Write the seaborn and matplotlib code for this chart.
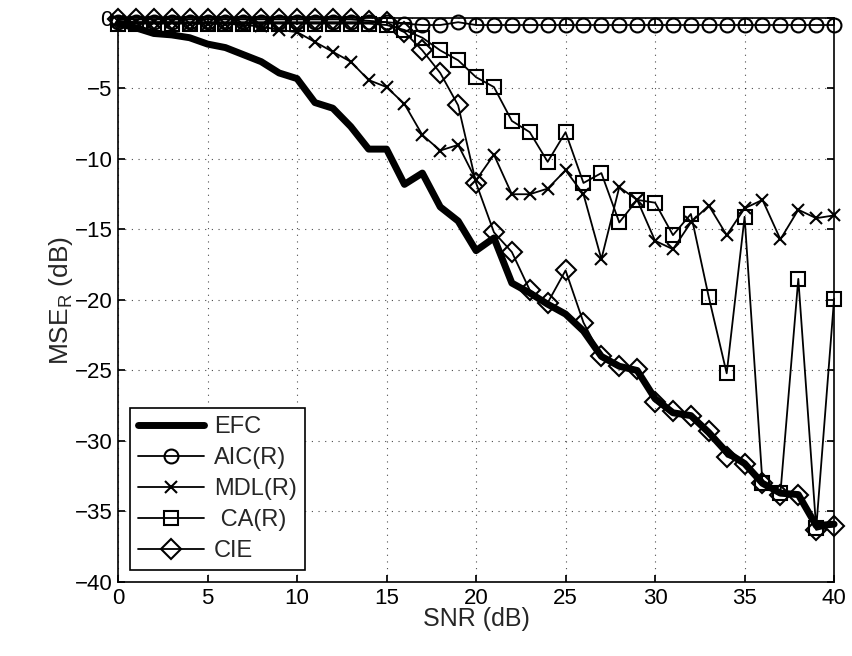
import numpy as np
import pandas as pd
import matplotlib
matplotlib.use("Agg")
import matplotlib.pyplot as plt
import seaborn as sns

snr = list(range(0, 41))

efc = [-0.4, -0.7, -1.1, -1.2, -1.4, -1.85, -2.1, -2.6, -3.1, -3.9, -4.3,
       -6.0, -6.4, -7.7, -9.3, -9.3, -11.8, -11.0, -13.4, -14.4, -16.5,
       -15.6, -18.8, -19.5, -20.3, -21.0, -22.2, -24.0, -24.7, -25.0, -27.0,
       -28.0, -28.2, -29.4, -30.8, -31.6, -33.0, -33.7, -33.8, -36.0, -35.9]

aic = [-0.3, -0.3, -0.3, -0.3, -0.3, -0.3, -0.3, -0.3, -0.3, -0.3, -0.3,
       -0.3, -0.3, -0.3, -0.3, -0.3, -0.4, -0.5, -0.5, -0.3, -0.5,
       -0.5, -0.5, -0.5, -0.5, -0.5, -0.5, -0.5, -0.5, -0.5, -0.5,
       -0.5, -0.5, -0.5, -0.5, -0.5, -0.5, -0.5, -0.5, -0.5, -0.5]

mdl = [-0.2, -0.3, -0.3, -0.3, -0.4, -0.4, -0.4, -0.5, -0.6, -0.85, -1.0,
       -1.7, -2.4, -3.1, -4.4, -4.9, -6.1, -8.3, -9.4, -9.0, -11.5,
       -9.7, -12.5, -12.5, -12.1, -10.8, -12.5, -17.1, -12.0, -12.9, -15.8,
       -16.4, -14.5, -13.3, -15.4, -13.5, -12.9, -15.7, -13.6, -14.2, -14.0]

ca = [-0.4, -0.4, -0.4, -0.4, -0.4, -0.4, -0.4, -0.4, -0.4, -0.4, -0.4,
      -0.4, -0.4, -0.4, -0.4, -0.5, -0.85, -1.4, -2.3, -3.0, -4.2,
      -4.9, -7.3, -8.1, -10.2, -8.1, -11.7, -11.0, -14.5, -12.9, -13.1,
      -15.4, -13.9, -19.8, -25.2, -14.1, -33.0, -33.7, -18.5, -36.2, -19.9]

cie = [-0.1, -0.1, -0.1, -0.1, -0.1, -0.1, -0.1, -0.1, -0.1, -0.1, -0.1,
       -0.1, -0.1, -0.1, -0.2, -0.3, -1.0, -2.3, -3.9, -6.2, -11.7,
       -15.2, -16.6, -19.3, -20.2, -17.9, -21.6, -24.0, -24.7, -24.9, -27.2,
       -27.9, -28.2, -29.3, -31.1, -31.6, -33.0, -33.8, -33.8, -36.3, -36.0]

labels = ["EFC", "AIC(R)", "MDL(R)", " CA(R)", "CIE"]
xticks = [0, 5, 10, 15, 20, 25, 30, 35, 40]
yticks = [-40, -35, -30, -25, -20, -15, -10, -5, 0]

sns.set_theme(style="white")
plt.rcParams['font.family'] = ['Liberation Sans', 'DejaVu Sans']
plt.rcParams['mathtext.fontset'] = 'custom'
plt.rcParams['mathtext.rm'] = 'Liberation Sans'
plt.rcParams['mathtext.it'] = 'Liberation Sans'
plt.rcParams['axes.unicode_minus'] = True

fig = plt.figure(figsize=(8.52, 6.56), dpi=100)
ax = fig.add_axes([0.1385, 0.1128, 0.8405, 0.8598])

styles = [
    dict(lw=5.0, marker=None, ms=0),
    dict(lw=1.3, marker='o', ms=10),
    dict(lw=1.3, marker='x', ms=9),
    dict(lw=1.3, marker='s', ms=10),
    dict(lw=1.3, marker='D', ms=10.5),
]
series = [efc, aic, mdl, ca, cie]
for vals, lab, st in zip(series, labels, styles):
    kw = dict(x=snr, y=vals, ax=ax, color='black', linewidth=st['lw'], label=lab,
              clip_on=False, zorder=3)
    if st['marker']:
        kw.update(marker=st['marker'], markersize=st['ms'], markerfacecolor='none',
                  markeredgecolor='black', markeredgewidth=1.5)
    sns.lineplot(**kw)

ax.set_xlim(0, 40)
ax.set_ylim(-40, 0)
ax.set_xticks(xticks)
ax.set_yticks(yticks)
ax.tick_params(direction='in', length=5, labelsize=16, colors='black',
               top=True, right=True, bottom=True, left=True, pad=4)
for sp in ax.spines.values():
    sp.set_color('black')
    sp.set_linewidth(1.2)
ax.grid(True, linestyle=(0, (1, 5)), color='black', linewidth=0.8, alpha=0.7)
ax.set_xlabel("SNR (dB)", fontsize=18, labelpad=-1)
ax.set_ylabel(r"MSE$_\mathrm{R}$ (dB)", fontsize=19, labelpad=0)

leg = ax.legend(loc='lower left', fontsize=17, frameon=True, fancybox=False,
                edgecolor='black', framealpha=1, handlelength=2.8,
                handletextpad=0.4, borderaxespad=0.5, labelspacing=0.38,
                borderpad=0.35)
leg.get_frame().set_linewidth(1.2)
leg.set_zorder(5)

fig.savefig("out.png", dpi=100)
